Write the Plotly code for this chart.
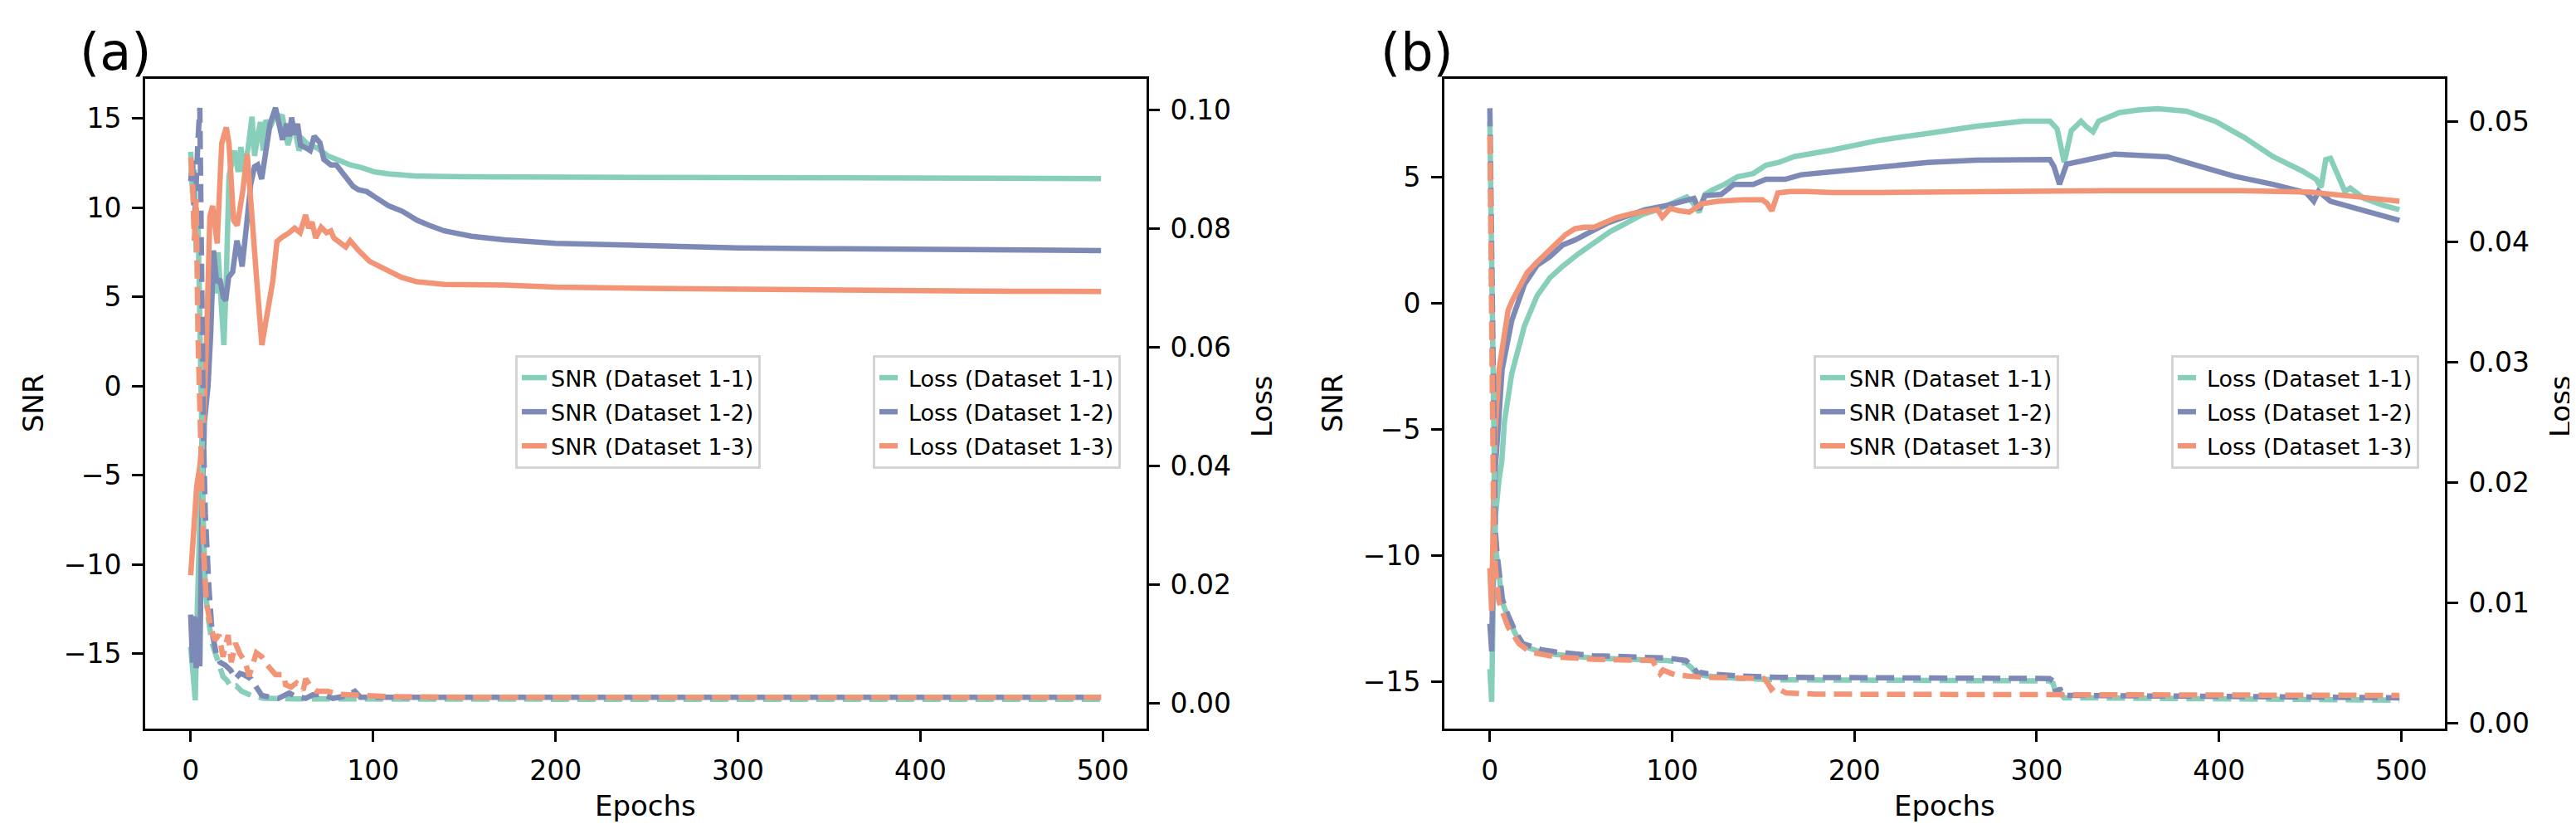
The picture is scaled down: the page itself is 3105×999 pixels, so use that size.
import plotly.graph_objects as go

# ---------------- 数据 (a) ----------------
ep_snr_a_11 = [0, 1, 2.5, 3.5, 4.5, 5.5, 7, 8.5, 10, 11.5, 13, 14, 15, 16.5, 18.2, 19.5, 21, 22.5, 24, 26,
               27.5, 29, 31.4, 33.6, 35, 36.7, 38.2, 39.7, 41.2, 43.5, 46.5, 50.3, 53.3, 56.4, 59.4, 61.7, 64.7, 69.2, 75.3, 81.4,
               87.4, 93.5, 101, 108.6, 124, 150, 172, 200, 250, 300, 350, 400, 450, 499]
snr_a_11 = [-14.6, -16.3, -17.6, -13, -8.5, -5.5, -1, 1, 3, 5.5, 7, 5.2, 7.5, 5, 2.3, 6, 11.8, 12.5, 13.2, 12,
            13.4, 12, 13.3, 15.1, 12.9, 14, 14.8, 13.2, 14.9, 14.5, 15.2, 15.1, 13.5, 14.7, 13.2, 13.8, 13.5, 13.35, 12.9, 12.65,
            12.4, 12.25, 12, 11.9, 11.77, 11.73, 11.72, 11.7, 11.68, 11.67, 11.66, 11.65, 11.64, 11.63]

ep_snr_a_12 = [0, 1, 2, 3, 4, 5, 6, 7.5, 9.5, 11, 12.5, 14.2, 16, 17.8, 19.2, 20.8, 23, 25.3, 26.8, 28.2,
               30.6, 32.9, 35, 36.7, 38.9, 40.5, 43.5, 46.5, 48.8, 50.3, 52.6, 54, 55.3, 57, 58.6, 60.2, 63.2, 65.5, 67.7, 70.8,
               73, 76.8, 79.8, 84.4, 89, 92, 96.5, 101, 108.6, 116, 124, 131, 139, 154, 172, 200, 250, 300, 350, 400, 450, 499]
snr_a_12 = [-12.8, -15.5, -12.9, -15.8, -13, -15.7, -8, -2, 0, 3, 7.6, 5.8, 6, 5, 4.8, 6.1, 6.4, 8.15, 7.6, 6.7,
            9, 11.3, 12.3, 12.4, 11.6, 12.7, 14.7, 15.6, 14.6, 13.8, 14.7, 14, 15.05, 14.1, 14.7, 13.5, 13.35, 13.2, 14, 13.65,
            12.7, 12.4, 12.4, 11.8, 11.2, 11, 10.9, 10.6, 10.1, 9.8, 9.3, 9, 8.7, 8.4, 8.2, 8, 7.85, 7.75, 7.7, 7.65, 7.62, 7.6]

ep_snr_a_13 = [0, 1, 2, 3.3, 5, 7, 8.5, 9.5, 10.5, 12, 14.5, 17, 19.5, 21, 23.5, 25.5, 28.5, 31, 33, 36,
               39, 42, 45, 47.3, 49.5, 54, 57, 60, 63, 64.7, 66.5, 68.5, 71.5, 74.5, 76.8, 78.5, 81, 85, 87.4, 92,
               98, 102.6, 108.6, 115.5, 124, 139, 172, 200, 250, 300, 350, 400, 450, 499]
snr_a_13 = [-10.6, -9, -7.5, -5.6, -4.5, -2.3, 2, 6, 9.5, 10.1, 8, 13.6, 14.5, 13.6, 9.3, 9, 10.9, 13, 10.6, 6.2,
            2.3, 4, 5.9, 8.1, 8.3, 8.6, 8.85, 8.6, 9.6, 8.85, 9.2, 8.3, 8.9, 8.6, 8.7, 8.3, 8.1, 7.8, 8.15, 7.6,
            7, 6.75, 6.4, 6.1, 5.85, 5.7, 5.67, 5.55, 5.48, 5.42, 5.38, 5.35, 5.32, 5.3]

ep_loss_a_11 = [0, 1, 2, 3, 4, 5, 6, 7, 8, 9.4, 11.7, 14.7, 17.7, 20, 22, 25, 28, 33, 40, 60, 100, 200, 300, 400, 499]
loss_a_11 = [0.093, 0.086, 0.090, 0.076, 0.082, 0.060, 0.045, 0.030, 0.0195, 0.0148,
             0.0101, 0.0069, 0.0045, 0.0038, 0.0027, 0.0029, 0.0020, 0.0013, 0.0008, 0.0007,
             0.00065, 0.00065, 0.00065, 0.00065, 0.00065]

ep_loss_a_12 = [0, 1, 2, 3, 4, 5, 5.5, 6, 7, 8, 8.6, 10, 11.7, 14, 16, 19, 22, 24.5, 27, 29,
                33, 36, 39, 43.5, 48, 54, 57, 63, 67, 72, 78, 85, 90, 93, 100, 150, 200, 300, 400, 499]
loss_a_12 = [0.088, 0.092, 0.080, 0.090, 0.095, 0.1004, 0.085, 0.065, 0.045, 0.032,
             0.0279, 0.0195, 0.0120, 0.0083, 0.0069, 0.0064, 0.0055, 0.0041, 0.0050, 0.0048,
             0.0041, 0.0027, 0.0013, 0.0010, 0.0008, 0.0017, 0.0012, 0.0008, 0.0014, 0.0015,
             0.0008, 0.0012, 0.0020, 0.0010, 0.0010, 0.0010, 0.0010, 0.0010, 0.0010, 0.0010]

ep_loss_a_13 = [0, 1, 2, 3, 4, 5, 6, 7, 8.6, 10.9, 13.2, 15.5, 17.7, 20.5, 22.3, 24.5, 27, 30, 32, 36,
                39, 42, 46.5, 51, 52, 55, 58, 61.7, 63, 66, 69, 75, 81, 93.5, 108, 150, 200, 300, 400, 499]
loss_a_13 = [0.092, 0.088, 0.078, 0.085, 0.062, 0.050, 0.040, 0.026, 0.0171, 0.0129,
             0.0106, 0.0115, 0.0078, 0.0115, 0.0069, 0.0101, 0.0083, 0.0069, 0.0045, 0.0085,
             0.0078, 0.0064, 0.0048, 0.0048, 0.0031, 0.0027, 0.0034, 0.0022, 0.0041, 0.0027,
             0.0020, 0.0020, 0.0015, 0.0013, 0.0011, 0.0010, 0.0010, 0.0010, 0.0010, 0.0010]

# ---------------- 数据 (b) ----------------
ep_snr_b_11 = [0, 1, 2, 3, 5, 6.5, 8, 12, 19, 26, 33, 40, 48.6, 57.3, 66, 74.7, 83.5, 92.2, 101, 108,
               111, 114.8, 118, 121.8, 128.8, 135.8, 144.5, 151.5, 158.5, 167, 187.7, 214, 240.3, 266.6, 292.9, 307.2, 311.2, 315.1, 319, 324.3,
               327, 330.9, 334, 337.4, 345.3, 355.9, 366.4, 382.2, 398, 413.8, 429.6, 445.4, 453.3, 456, 458.6, 461.2, 465.2, 469.1, 472, 479.6,
               490.1, 499]
snr_b_11 = [-14.5, -15.8, -11, -8.5, -7, -6.3, -4.7, -2.8, -0.9, 0.3, 1, 1.46, 1.95, 2.4, 2.83, 3.16, 3.5, 3.7, 4, 4.2,
            4, 3.6, 4.3, 4.47, 4.7, 5, 5.13, 5.46, 5.57, 5.8, 6.06, 6.45, 6.72, 7, 7.2, 7.2, 6.9, 5.57, 6.83, 7.2,
            7, 6.78, 7.2, 7.32, 7.54, 7.65, 7.7, 7.6, 7.2, 6.56, 5.8, 5.24, 4.9, 4.58, 5.68, 5.73, 5.02, 4.42, 4.55, 4.14,
            3.87, 3.7]

ep_snr_b_12 = [0, 1, 2, 3, 5, 6.7, 12, 19, 26, 33, 40, 46.9, 53.9, 64.3, 74.7, 85.3, 97.4, 106, 112, 114.8,
               118, 126.9, 133.9, 144.5, 151.5, 162, 170.7, 187.7, 214, 240.3, 266.6, 292.9, 307.2, 309.5, 312.5, 316.4, 324.3, 342.7, 358.5, 371.7,
               387.5, 408.5, 429.6, 448, 452, 454.6, 461.2, 471.7, 484.9, 499]
snr_b_12 = [-12.7, -13.8, -9, -6.5, -4.5, -2.65, -0.7, 0.75, 1.5, 1.84, 2.3, 2.5, 2.77, 3.16, 3.43, 3.7, 3.87, 4.03, 4.14, 3.7,
            4.25, 4.3, 4.7, 4.7, 4.9, 4.9, 5.08, 5.2, 5.4, 5.57, 5.66, 5.7, 5.68, 5.4, 4.7, 5.5, 5.63, 5.9, 5.84, 5.79,
            5.46, 5.02, 4.7, 4.36, 4.03, 4.42, 4.03, 3.82, 3.54, 3.27]

ep_snr_b_13 = [0, 1, 2, 3, 5, 8, 10, 12.3, 17, 20.4, 25.6, 30.9, 36, 41.4, 46.6, 51.9, 57, 62.3, 69.3, 78,
               86.7, 92, 94.6, 99, 104, 109.4, 116.3, 125, 139, 149.5, 152, 154.7, 158, 165, 174, 187.7, 214, 266.6, 345.3, 411,
               450.5, 476.9, 499]
snr_b_13 = [-10.5, -12.2, -8, -5, -2.65, -1.2, -0.3, 0.1, 0.75, 1.2, 1.6, 1.95, 2.3, 2.7, 2.94, 3, 3, 3.16, 3.38, 3.54,
            3.65, 3.7, 3.4, 3.75, 3.65, 3.6, 3.93, 4.03, 4.09, 4.09, 3.95, 3.65, 4.36, 4.42, 4.42, 4.38, 4.38, 4.42, 4.45, 4.45,
            4.39, 4.2, 4.03]

ep_loss_b = [0, 1, 2, 3, 4, 6.9, 9.9, 14, 18.1, 22.1, 28.2, 36.4, 56.7, 77, 97.4, 107.5, 110.6, 114.7, 116, 119.8,
             138, 158.4, 233, 307, 309, 311, 312.5, 315, 320, 400, 499]
loss_b_11 = [0.0500, 0.035, 0.020, 0.0150, 0.0135, 0.0100, 0.0088, 0.0074, 0.0064, 0.0062,
             0.0059, 0.0057, 0.0054, 0.0053, 0.0052, 0.0050, 0.0046, 0.0038, 0.0040, 0.0039,
             0.0037, 0.0036, 0.00355, 0.0035, 0.0033, 0.0021, 0.0026, 0.0021, 0.0021, 0.0020, 0.0019]
loss_b_12 = [0.0511, 0.040, 0.022, 0.0160, 0.0140, 0.0103, 0.0090, 0.0076, 0.0066, 0.0064,
             0.0061, 0.0059, 0.0056, 0.0055, 0.0054, 0.0052, 0.0048, 0.0040, 0.0042, 0.0041,
             0.0039, 0.0038, 0.0037, 0.0037, 0.0035, 0.0023, 0.0029, 0.0023, 0.0023, 0.0022, 0.0021]

ep_loss_b_13 = [0, 1, 2, 3, 4.9, 9.9, 16, 22.1, 36.4, 56.7, 89.3, 91, 93.4, 95, 101.5, 117.8, 150.3, 152.5, 154.4, 156,
                162.5, 178.8, 233, 300, 400, 450, 499]
loss_b_13 = [0.0488, 0.030, 0.018, 0.013, 0.0101, 0.0080, 0.0066, 0.0059, 0.0055, 0.0053,
             0.0052, 0.0047, 0.0041, 0.0044, 0.0040, 0.0038, 0.0037, 0.0033, 0.0028, 0.0030,
             0.0025, 0.0024, 0.0024, 0.0024, 0.0024, 0.0023, 0.0023]

names = ['Dataset 1-1', 'Dataset 1-2', 'Dataset 1-3']
colors = ['rgb(136,207,187)', 'rgb(126,138,182)', 'rgb(242,148,118)']

# ---------------- 画布与坐标 ----------------
W, H = 3105, 999
FONT = 'DejaVu Sans'
LW = 6.5
DASH = '22px,10px'

def px_x(p):
    return p / W

def px_y(p):
    return 1 - p / H

fig = go.Figure()

snr_a = [(ep_snr_a_11, snr_a_11), (ep_snr_a_12, snr_a_12), (ep_snr_a_13, snr_a_13)]
loss_a = [(ep_loss_a_11, loss_a_11), (ep_loss_a_12, loss_a_12), (ep_loss_a_13, loss_a_13)]
snr_b = [(ep_snr_b_11, snr_b_11), (ep_snr_b_12, snr_b_12), (ep_snr_b_13, snr_b_13)]
loss_b = [(ep_loss_b, loss_b_11), (ep_loss_b, loss_b_12), (ep_loss_b_13, loss_b_13)]

for i in range(3):
    fig.add_trace(go.Scatter(x=snr_a[i][0], y=snr_a[i][1], mode='lines', name=f'SNR ({names[i]})',
                             line=dict(color=colors[i], width=LW), xaxis='x', yaxis='y',
                             legend='legend', legendgroup=f'a{i}'))
for i in range(3):
    fig.add_trace(go.Scatter(x=loss_a[i][0], y=loss_a[i][1], mode='lines', name=f'Loss ({names[i]})',
                             line=dict(color=colors[i], width=LW, dash=DASH), xaxis='x', yaxis='y2',
                             legend='legend2', legendgroup=f'al{i}'))
for i in range(3):
    fig.add_trace(go.Scatter(x=snr_b[i][0], y=snr_b[i][1], mode='lines', name=f'SNR ({names[i]})',
                             line=dict(color=colors[i], width=LW), xaxis='x2', yaxis='y3',
                             legend='legend3', legendgroup=f'b{i}'))
for i in range(3):
    fig.add_trace(go.Scatter(x=loss_b[i][0], y=loss_b[i][1], mode='lines', name=f'Loss ({names[i]})',
                             line=dict(color=colors[i], width=LW, dash=DASH), xaxis='x2', yaxis='y4',
                             legend='legend4', legendgroup=f'bl{i}'))

ydom = [px_y(870), px_y(87)]
axis_common = dict(showgrid=False, zeroline=False, showline=True, linecolor='black', linewidth=3,
                   ticks='outside', ticklen=13, tickwidth=3, tickcolor='black',
                   tickfont=dict(family=FONT, size=33, color='black'), automargin=False,
                   ticklabelstandoff=6)

xa = dict(axis_common, range=[-24.95, 523.95], tick0=0, dtick=100, mirror=True)
fig.update_layout(
    xaxis=dict(xa, domain=[px_x(167), px_x(1374)], anchor='y'),
    xaxis2=dict(xa, domain=[px_x(1733), px_x(2939)], anchor='y3'),
    yaxis=dict(axis_common, domain=ydom, range=[-19.19, 17.22], tick0=0, dtick=5, anchor='x'),
    yaxis2=dict(axis_common, range=[-0.0043, 0.1053], tick0=0, dtick=0.02, tickformat='.2f',
                overlaying='y', side='right', anchor='x'),
    yaxis3=dict(axis_common, domain=ydom, range=[-16.86, 8.88], tick0=0, dtick=5, anchor='x2'),
    yaxis4=dict(axis_common, range=[-0.00046, 0.05354], tick0=0, dtick=0.01, tickformat='.2f',
                overlaying='y3', side='right', anchor='x2'),
)

leg_common = dict(bgcolor='rgba(255,255,255,0.85)', bordercolor='#d4d4d4', borderwidth=3,
                  font=dict(family=FONT, size=27, color='black'), tracegroupgap=3,
                  xanchor='left', yanchor='top', y=px_y(420))
fig.update_layout(
    legend=dict(leg_common, x=px_x(613)),
    legend2=dict(leg_common, x=px_x(1044)),
    legend3=dict(leg_common, x=px_x(2178)),
    legend4=dict(leg_common, x=px_x(2609)),
)

# 轴标题和面板标签
labels = [
    ('Epochs', 770, 963, 0, 34),
    ('Epochs', 2336, 963, 0, 34),
    ('SNR', 32, 478, -90, 34),
    ('Loss', 1513, 482, -90, 34),
    ('SNR', 1598, 478, -90, 34),
    ('Loss', 3078, 482, -90, 34),
    ('(a)', 131, 54, 0, 62),
    ('(b)', 1700, 54, 0, 62),
]
for text, lx, ly, ang, size in labels:
    fig.add_annotation(text=text, x=px_x(lx), y=px_y(ly), xref='paper', yref='paper',
                       showarrow=False, textangle=ang, xanchor='center', yanchor='middle',
                       font=dict(family=FONT, size=size, color='black'))

fig.update_layout(
    width=W, height=H,
    margin=dict(l=0, r=0, t=0, b=0),
    paper_bgcolor='white', plot_bgcolor='white',
    font=dict(family=FONT, color='black'),
)

fig.write_html("out.html")
